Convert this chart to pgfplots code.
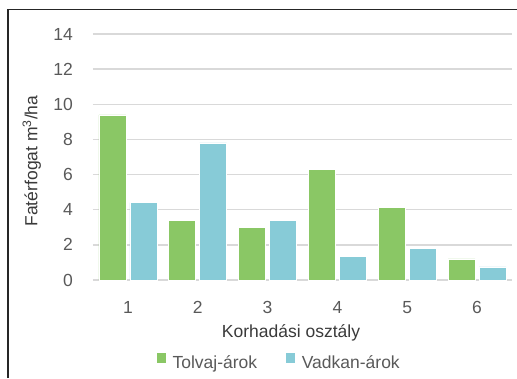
\documentclass[border=0pt]{standalone}
\usepackage{pgfplots}
\pgfplotsset{compat=1.18}
\usepackage{fontspec}
\setmainfont{Liberation Sans}
\definecolor{tolvaj}{HTML}{8AC765}
\definecolor{vadkan}{HTML}{87CBD7}
\definecolor{gridgray}{HTML}{D9D9D9}
\definecolor{ticktext}{HTML}{595959}
\definecolor{labeltext}{HTML}{3A3A3A}
\begin{document}
\begin{tikzpicture}
\begin{axis}[
  name=ax,
  scale only axis,
  width=419pt, height=246pt,
  xmin=0.5, xmax=6.5, ymin=0, ymax=14,
  ybar, bar width=27pt, ybar=4pt,
  axis line style={draw=none},
  xtick={1,...,6},
  ytick={0,2,...,14},
  major tick length=0pt,
  ymajorgrids, grid style={gridgray, line width=1.5pt},
  tick label style={font=\fontsize{17.5}{20}\selectfont, text=ticktext, inner sep=0pt},
  /pgf/number format/assume math mode=true,
  xticklabel style={anchor=base, yshift=-33pt},
  yticklabel style={anchor=east, xshift=-20pt},
  xlabel={Korhadási osztály},
  ylabel={Fatérfogat m\textsuperscript{3}/ha},
  label style={font=\fontsize{17.5}{20}\selectfont, text=labeltext, inner sep=0pt},
  xlabel style={at={(axis description cs:0.4726,-0.2317)}, anchor=base},
  ylabel style={at={(axis description cs:-0.1325,0.4837)}, anchor=base},
  legend style={at={(axis description cs:0.1504,-0.2927)}, anchor=north west,
    draw=none, fill=none, inner sep=0pt, outer sep=0pt,
    font=\fontsize{17.5}{20}\selectfont, text=ticktext,
    nodes={inner sep=0pt},
    legend columns=2,
    /tikz/every odd column/.append style={column sep=6pt},
    /tikz/every even column/.append style={column sep=28pt}},
  legend image code/.code={\fill[#1] (0pt,0pt) rectangle (10pt,10.5pt);},
  clip=false,
]
\addplot[fill=tolvaj, draw=white, line width=0.6pt] coordinates {
  (1,9.4) (2,3.4) (3,3.0) (4,6.3) (5,4.15) (6,1.2)};
\addplot[fill=vadkan, draw=white, line width=0.6pt] coordinates {
  (1,4.4) (2,7.8) (3,3.4) (4,1.35) (5,1.8) (6,0.75)};
\legend{Tolvaj-árok, Vadkan-árok}
\coordinate (O) at (rel axis cs:0,0);
\end{axis}
% chart area: fixed canvas with its frame running along the left and top
\pgfresetboundingbox
\useasboundingbox ([shift={(-93pt,-98pt)}]O) rectangle ([shift={(424pt,280pt)}]O);
\draw[line width=1.2pt, black!85]
  ([shift={(-85pt,-98pt)}]O) -- ([shift={(-85pt,270.5pt)}]O) -- ([shift={(424pt,270.5pt)}]O);
\end{tikzpicture}
\end{document}
